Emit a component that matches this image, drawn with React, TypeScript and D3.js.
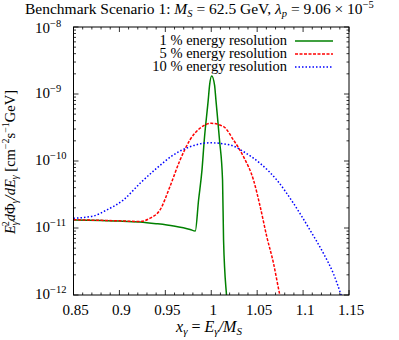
import * as d3 from "d3";
import React from "react";

const greenX = [0.85, 0.88, 0.9, 0.922, 0.94, 0.959, 0.977, 0.9826, 0.9862, 0.9899, 0.9924, 0.9967, 0.9982, 1.0005, 1.0036, 1.0051, 1.009, 1.0123, 1.0134, 1.0166, 1.018];
const greenY = [1.32e-11, 1.29e-11, 1.27e-11, 1.23e-11, 1.16e-11, 1.07e-11, 9.5e-12, 9.0e-12, 2.62e-11, 7.3e-11, 2.06e-10, 8.1e-10, 1.36e-9, 1.86e-9, 1.36e-9, 8.1e-10, 2.06e-10, 5.2e-11, 6.6e-12, 1.0e-12, 6e-13];

const redX = [0.85, 0.88, 0.9, 0.922, 0.9334, 0.9442, 0.955, 0.966, 0.9768, 0.9877, 1.0, 1.0134, 1.0242, 1.0351, 1.046, 1.0533, 1.0605, 1.0678, 1.0743, 1.08];
const redY = [1.33e-11, 1.3e-11, 1.28e-11, 1.25e-11, 1.4e-11, 1.86e-11, 4.14e-11, 1.03e-10, 2.06e-10, 3.08e-10, 3.65e-10, 3.25e-10, 2.06e-10, 1.16e-10, 5.2e-11, 2.08e-11, 7.4e-12, 2.97e-12, 1.06e-12, 5e-13];

const blueX = [0.85, 0.8717, 0.8862, 0.9043, 0.9225, 0.9406, 0.9587, 0.9768, 0.9986, 1.0207, 1.0351, 1.0533, 1.0714, 1.0895, 1.1076, 1.1221, 1.1329, 1.1402, 1.145];
const blueY = [1.4e-11, 1.51e-11, 1.86e-11, 2.62e-11, 4.65e-11, 7.8e-11, 1.23e-10, 1.63e-10, 1.87e-10, 1.73e-10, 1.38e-10, 9.2e-11, 5.2e-11, 2.34e-11, 9.3e-12, 4.2e-12, 2.1e-12, 1.12e-12, 7e-13];

const xTicks = [0.85, 0.9, 0.95, 1, 1.05, 1.1, 1.15];
const xTickLabels = ["0.85", "0.9", "0.95", "1", "1.05", "1.1", "1.15"];
const yExponents = [-12, -11, -10, -9, -8];
const legendLabels = ["1 % energy resolution", "5 % energy resolution", "10 % energy resolution"];

const font = "Liberation Serif";
const left = 73.5, right = 349, top = 27, bottom = 295;

export default function App() {
  const x = d3.scaleLinear().domain([0.85, 1.15]).range([left, right]);
  const y = d3.scaleLog().domain([1e-12, 1e-8]).range([bottom, top]);
  const line = d3
    .line<[number, number]>()
    .x((d) => x(d[0]))
    .y((d) => y(d[1]))
    .curve(d3.curveMonotoneX);

  const series = [
    { xs: greenX, ys: greenY, color: "#008000", dash: undefined },
    { xs: redX, ys: redY, color: "#ff0000", dash: "3,1.5" },
    { xs: blueX, ys: blueY, color: "#0000ff", dash: "1.5,2" },
  ];

  const xMinor = d3.range(85, 116).map((v) => v / 100);
  const yMinor: number[] = [];
  yExponents.slice(0, -1).forEach((e) => {
    for (let k = 2; k < 10; k++) yMinor.push(k * Math.pow(10, e));
  });

  return (
    <svg width={399} height={340} style={{ display: "block", position: "absolute", left: 0, top: 0 }}>
      <rect width={399} height={340} fill="white" />
      {/* title */}
      <text x={25} y={14} fontSize={15.5} fontFamily={font}>
        Benchmark Scenario 1:{"  "}
        <tspan fontStyle="italic">M</tspan>
        <tspan fontSize={10.5} fontStyle="italic" dy={3}>S</tspan>
        <tspan dy={-3}> = 62.5 GeV, </tspan>
        <tspan fontStyle="italic">λ</tspan>
        <tspan fontSize={10.5} fontStyle="italic" dy={3}>p</tspan>
        <tspan dy={-3}> = 9.06 × 10</tspan>
        <tspan fontSize={10.5} dy={-6}>−5</tspan>
      </text>

      <defs>
        <clipPath id="plotclip">
          <rect x={left} y={top} width={right - left} height={bottom - top} />
        </clipPath>
      </defs>

      {/* ticks */}
      <g stroke="black" strokeWidth={0.8}>
        {xMinor.map((v, i) => {
          const major = i % 5 === 0;
          const len = major ? 5 : 2.5;
          return (
            <g key={"xm" + i}>
              <line x1={x(v)} x2={x(v)} y1={bottom} y2={bottom - len} />
              <line x1={x(v)} x2={x(v)} y1={top} y2={top + len} />
            </g>
          );
        })}
        {yMinor.map((v, i) => (
          <g key={"ym" + i}>
            <line x1={left} x2={left + 2.5} y1={y(v)} y2={y(v)} />
            <line x1={right} x2={right - 2.5} y1={y(v)} y2={y(v)} />
          </g>
        ))}
        {yExponents.map((e) => (
          <g key={"yM" + e}>
            <line x1={left} x2={left + 5} y1={y(Math.pow(10, e))} y2={y(Math.pow(10, e))} />
            <line x1={right} x2={right - 5} y1={y(Math.pow(10, e))} y2={y(Math.pow(10, e))} />
          </g>
        ))}
      </g>

      {/* curves */}
      <g clipPath="url(#plotclip)" fill="none">
        {series.map((s, i) => (
          <path
            key={i}
            d={line(s.xs.map((v, j) => [v, s.ys[j]] as [number, number])) || ""}
            stroke={s.color}
            strokeWidth={1.5}
            strokeDasharray={s.dash}
          />
        ))}
      </g>

      <rect x={left} y={top} width={right - left} height={bottom - top} fill="none" stroke="black" strokeWidth={1} />

      {/* x tick labels */}
      {xTicks.map((v, i) => (
        <text key={"xt" + i} x={x(v) + 2} y={315} fontSize={15} fontFamily={font} textAnchor="middle">
          {xTickLabels[i]}
        </text>
      ))}

      {/* y tick labels */}
      {yExponents.map((e) => (
        <text key={"yt" + e} x={35} y={y(Math.pow(10, e)) + (e === -8 ? 6 : 4)} fontSize={15} fontFamily={font}>
          10
          <tspan fontSize={10.5} dy={-6}>{"−" + Math.abs(e)}</tspan>
        </text>
      ))}

      {/* axis labels */}
      <text x={209} y={332} fontSize={16} fontFamily={font} textAnchor="middle">
        <tspan fontStyle="italic">x</tspan>
        <tspan fontSize={11} fontStyle="italic" dy={3}>γ</tspan>
        <tspan dy={-3}> = </tspan>
        <tspan fontStyle="italic">E</tspan>
        <tspan fontSize={11} fontStyle="italic" dy={3}>γ</tspan>
        <tspan dy={-3} fontStyle="italic">/M</tspan>
        <tspan fontSize={11} fontStyle="italic" dy={3}>S</tspan>
      </text>

      <g transform={`translate(15,${(top + bottom) / 2 + 1}) rotate(-90)`}>
        <text x={0} y={0} fontSize={14.5} fontFamily={font} textAnchor="middle">
          <tspan fontStyle="italic">E</tspan>
          <tspan fontSize={10} fontStyle="italic" dy={3}>γ</tspan>
          <tspan fontSize={10} dx={-5} dy={-9}>2</tspan>
          <tspan fontStyle="italic" dy={6}>d</tspan>
          <tspan>Φ</tspan>
          <tspan fontSize={10} fontStyle="italic" dy={3}>γ</tspan>
          <tspan dy={-3} fontStyle="italic">/dE</tspan>
          <tspan fontSize={10} fontStyle="italic" dy={3}>γ</tspan>
          <tspan dy={-3}> [cm</tspan>
          <tspan fontSize={10} dy={-6}>−2</tspan>
          <tspan dy={6}>s</tspan>
          <tspan fontSize={10} dy={-6}>−1</tspan>
          <tspan dy={6}>GeV]</tspan>
        </text>
      </g>

      {/* legend */}
      {legendLabels.map((t, i) => (
        <g key={"lg" + i}>
          <text x={287} y={45 + i * 13} fontSize={14.5} fontFamily={font} textAnchor="end">
            {t}
          </text>
          <line
            x1={295}
            x2={333}
            y1={41 + i * 13}
            y2={41 + i * 13}
            stroke={series[i].color}
            strokeWidth={1.5}
            strokeDasharray={series[i].dash}
          />
        </g>
      ))}
    </svg>
  );
}
